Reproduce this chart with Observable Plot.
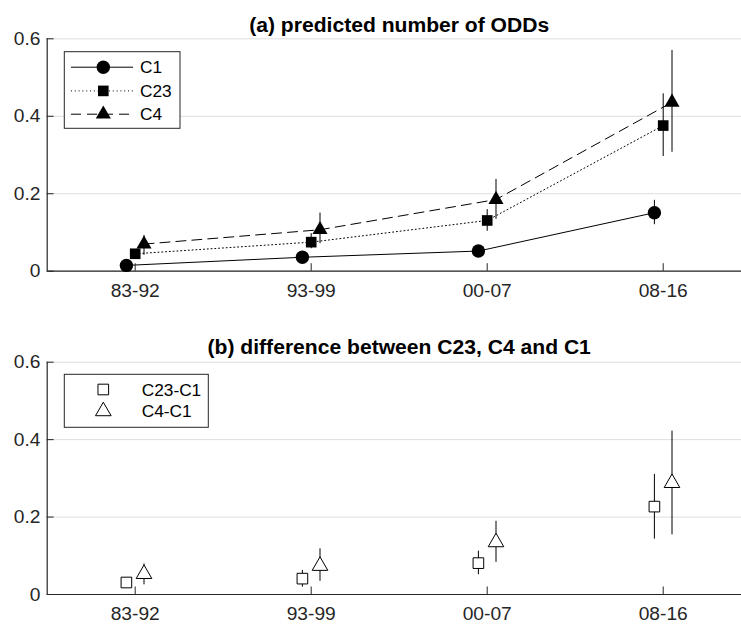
<!DOCTYPE html>
<html><head><meta charset="utf-8">
<script src="https://cdn.jsdelivr.net/npm/d3@7"></script>
<script src="https://cdn.jsdelivr.net/npm/@observablehq/plot@0.6"></script>
<style>
body{margin:0;background:#fff;}
#chart{width:741px;height:624px;overflow:hidden;font-family:"Liberation Sans",Arial,sans-serif;}
#chart svg{display:block;max-width:none;}
</style>
</head><body><div id="chart"></div>
<script>
// ---- data ----
const periods = ["83-92", "93-99", "00-07", "08-16"];
const c1 = [0.015, 0.036, 0.052, 0.151];
const c1Low = [0.008, 0.028, 0.043, 0.120];
const c1High = [0.022, 0.044, 0.061, 0.183];
const c23 = [0.045, 0.075, 0.131, 0.376];
const c23Low = [0.036, 0.058, 0.103, 0.296];
const c23High = [0.056, 0.097, 0.159, 0.458];
const c4 = [0.070, 0.107, 0.185, 0.436];
const c4Low = [0.041, 0.071, 0.134, 0.307];
const c4High = [0.092, 0.150, 0.237, 0.570];
const d23 = [0.031, 0.041, 0.081, 0.227];
const d23Low = [0.022, 0.019, 0.051, 0.143];
const d23High = [0.040, 0.062, 0.112, 0.310];
const d4 = [0.053, 0.074, 0.135, 0.288];
const d4Low = [0.025, 0.034, 0.083, 0.154];
const d4High = [0.079, 0.118, 0.189, 0.422];
const yTicks = [0, 0.2, 0.4, 0.6];
const titleA = "(a) predicted number of ODDs";
const titleB = "(b) difference between C23, C4 and C1";
const seriesA = ["C1", "C23", "C4"];
const seriesB = ["C23-C1", "C4-C1"];

// ---- helpers ----
const FONT = '"Liberation Sans", Arial, sans-serif';
const AX = "#262626";
function rows(name, vals, lo, hi, off) {
  return periods.map((p, i) => ({series: name, x: i + 1 + off, y: vals[i], lo: lo[i], hi: hi[i]}));
}
const rC1 = rows("C1", c1, c1Low, c1High, -0.05);
const rC23 = rows("C23", c23, c23Low, c23High, 0);
const rC4 = rows("C4", c4, c4Low, c4High, 0.05);
const rD23 = rows("C23-C1", d23, d23Low, d23High, -0.05);
const rD4 = rows("C4-C1", d4, d4Low, d4High, 0.05);

function frameMarks() {
  return [
    Plot.gridY(yTicks, {stroke: "#dedede", strokeOpacity: 1, strokeWidth: 1}),
    Plot.ruleX([0.5], {stroke: AX, strokeWidth: 1.2}),
    Plot.ruleY([0], {stroke: AX, strokeWidth: 1.2})
  ];
}
function axisMarks() {
  return [
    Plot.axisX({ticks: [1, 2, 3, 4], tickFormat: d => periods[d - 1], tickSize: -7.5, tickPadding: 19.5,
      fontSize: 19.2, color: AX, fontFamily: FONT, label: null}),
    Plot.axisY({ticks: yTicks, tickFormat: d => d === 0 ? "0" : String(d), tickSize: -7, tickPadding: 13.7,
      fontSize: 19.2, color: AX, fontFamily: FONT, label: null})
  ];
}
const xScale = {type: "linear", domain: [0.5, 4.5], range: [46.7, 750.7]};

// ---- panel (a) ----
const plotA = Plot.plot({
  width: 741, height: 312,
  marginLeft: 46.7, marginRight: 0, marginTop: 38.3, marginBottom: 41.3,
  x: xScale,
  y: {domain: [0, 0.6]},
  style: {fontFamily: FONT, background: "white", overflow: "hidden"},
  marks: [
    ...frameMarks(),
    Plot.line(rC1, {x: "x", y: "y", stroke: "black", strokeWidth: 1}),
    Plot.line(rC23, {x: "x", y: "y", stroke: "black", strokeWidth: 1, strokeDasharray: "1,2.8"}),
    Plot.line(rC4, {x: "x", y: "y", stroke: "black", strokeWidth: 1, strokeDasharray: "10,6"}),
    Plot.ruleX([...rC1, ...rC23, ...rC4], {x: "x", y1: "lo", y2: "hi", stroke: "black", strokeWidth: 1}),
    Plot.dot(rC1, {x: "x", y: "y", symbol: "circle", r: 6.7, fill: "black"}),
    Plot.dot(rC23, {x: "x", y: "y", symbol: "square", r: 6, fill: "black"}),
    Plot.dot(rC4, {x: "x", y: "y", symbol: "triangle", r: 5.6, fill: "black"}),
    ...axisMarks(),
    Plot.text([titleA], {x: 2.5, frameAnchor: "top", lineAnchor: "bottom", dy: -7.3, text: d => d,
      fontSize: 21.1, fontWeight: "bold", fill: "black", fontFamily: FONT})
  ]
});

// ---- panel (b) ----
const plotB = Plot.plot({
  width: 741, height: 312,
  marginLeft: 46.7, marginRight: 0, marginTop: 49.7, marginBottom: 30,
  x: xScale,
  y: {domain: [0, 0.6]},
  style: {fontFamily: FONT, background: "white", overflow: "hidden"},
  marks: [
    ...frameMarks(),
    Plot.ruleX([...rD23, ...rD4], {x: "x", y1: "lo", y2: "hi", stroke: "black", strokeWidth: 1}),
    Plot.dot(rD23, {x: "x", y: "y", symbol: "square", r: 6, fill: "white", stroke: "black", strokeWidth: 1}),
    Plot.dot(rD4, {x: "x", y: "y", symbol: "triangle", r: 5.8, fill: "white", stroke: "black", strokeWidth: 1}),
    ...axisMarks(),
    Plot.text([titleB], {x: 2.5, frameAnchor: "top", lineAnchor: "bottom", dy: -8.4, text: d => d,
      fontSize: 21.1, fontWeight: "bold", fill: "black", fontFamily: FONT})
  ]
});

// ---- legends (decoration) ----
function legend(svg, box, entries) {
  const g = d3.select(svg).append("g").attr("class", "legend").attr("text-anchor", "start");
  g.append("rect").attr("x", box.x).attr("y", box.y).attr("width", box.w).attr("height", box.h)
    .attr("fill", "white").attr("stroke", AX).attr("stroke-width", 1);
  entries.forEach(e => {
    if (e.dash !== undefined) {
      g.append("line").attr("x1", box.x + 6.7).attr("x2", box.x + 68.7).attr("y1", e.y).attr("y2", e.y)
        .attr("stroke", "black").attr("stroke-width", 1).attr("stroke-dasharray", e.dash || null);
    }
    g.append("path").attr("transform", `translate(${box.x + 39},${e.y})`)
      .attr("d", d3.symbol(e.symbol, Math.PI * e.r * e.r)())
      .attr("fill", e.fill).attr("stroke", e.stroke || "none").attr("stroke-width", 1);
    g.append("text").attr("x", e.tx).attr("y", e.y).attr("dy", "0.35em").attr("text-anchor", "start")
      .attr("font-family", FONT).attr("font-size", 17.3).attr("fill", "black").text(e.label);
  });
}
legend(plotA, {x: 64.3, y: 51.7, w: 115.7, h: 76.6}, [
  {label: seriesA[0], y: 67.2, symbol: d3.symbolCircle, r: 6.7, fill: "black", dash: "", tx: 140},
  {label: seriesA[1], y: 90.9, symbol: d3.symbolSquare, r: 6, fill: "black", dash: "1,2.8", tx: 140},
  {label: seriesA[2], y: 114.2, symbol: d3.symbolTriangle, r: 5.6, fill: "black", dash: "10,6", tx: 140}
]);
legend(plotB, {x: 64.3, y: 62.3, w: 144, h: 53}, [
  {label: seriesB[0], y: 77.5, symbol: d3.symbolSquare, r: 6, fill: "white", stroke: "black", tx: 141.7},
  {label: seriesB[1], y: 99.2, symbol: d3.symbolTriangle, r: 5.8, fill: "white", stroke: "black", tx: 141.7}
]);

const chart = document.getElementById("chart");
chart.appendChild(plotA);
chart.appendChild(plotB);
</script>
</body></html>
